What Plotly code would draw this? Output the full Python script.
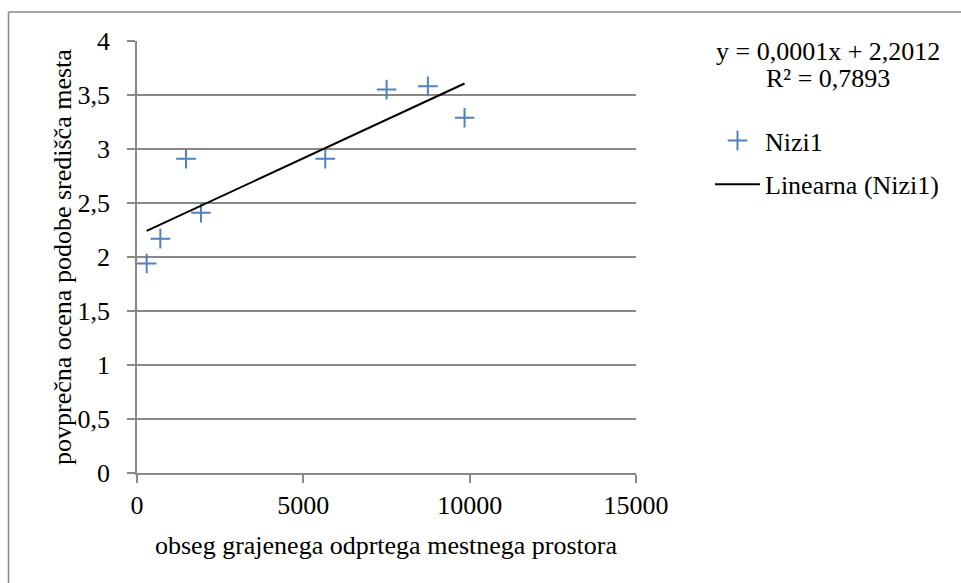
import numpy as np
import plotly.graph_objects as go

# Data
x_values = [291, 701, 1473, 1923, 5659, 7503, 8744, 9846]
y_values = [1.94, 2.17, 2.91, 2.41, 2.91, 3.55, 3.58, 3.29]
series_name = "Nizi1"
trend_name = "Linearna (Nizi1)"
x_tick_vals = [0, 5000, 10000, 15000]
x_tick_text = ["0", "5000", "10000", "15000"]
y_tick_vals = [0, 0.5, 1, 1.5, 2, 2.5, 3, 3.5, 4]
y_tick_text = ["0", "0,5", "1", "1,5", "2", "2,5", "3", "3,5", "4"]
equation_text = "y = 0,0001x + 2,2012"
r2_text = "R² = 0,7893"
x_title = "obseg grajenega odprtega mestnega prostora"
y_title = "povprečna ocena podobe središča mesta"

# Linear trendline (least squares) from the data
slope, intercept = np.polyfit(x_values, y_values, 1)
trend_x = [min(x_values), max(x_values)]
trend_y = [slope * v + intercept for v in trend_x]

FONT = "Times New Roman, Liberation Serif, serif"
GRID = "#888888"
BLUE = "#4F81BD"
FS = 26

fig = go.Figure()
fig.add_trace(go.Scatter(
    x=x_values, y=y_values, mode="markers", name=series_name,
    legendgroup="a",
    marker=dict(symbol="cross-thin", size=14, line=dict(color=BLUE, width=2), color=BLUE),
))
fig.add_trace(go.Scatter(
    x=trend_x, y=trend_y, mode="lines", name=trend_name,
    legendgroup="b",
    line=dict(color="black", width=2),
))

W, H = 961, 583
L, R, T, B = 137, 325, 41, 110
pw, ph = W - L - R, H - T - B

def px(xp):
    return (xp - L) / pw

def py(yp):
    return (H - B - yp) / ph

fig.update_layout(
    width=W, height=H,
    margin=dict(l=L, r=R, t=T, b=B, pad=0, autoexpand=False),
    paper_bgcolor="white", plot_bgcolor="white",
    font=dict(family=FONT, size=FS, color="black"),
    showlegend=True,
    legend=dict(
        x=px(710), y=py(117), xanchor="left", yanchor="top",
        font=dict(family=FONT, size=FS, color="black"),
        bgcolor="rgba(0,0,0,0)", tracegroupgap=7, itemwidth=45,
    ),
    xaxis=dict(
        range=[0, 15000], tickvals=x_tick_vals, ticktext=x_tick_text,
        showgrid=False, zeroline=False,
        showline=True, linecolor=GRID, linewidth=1.5,
        ticks="outside", ticklen=8, tickcolor=GRID, tickwidth=1.5,
        ticklabelstandoff=0, automargin=False,
        fixedrange=True,
    ),
    yaxis=dict(
        range=[0, 4], tickvals=y_tick_vals, ticktext=y_tick_text,
        showgrid=True, gridcolor=GRID, gridwidth=1.5, zeroline=False,
        showline=True, linecolor=GRID, linewidth=1.5,
        ticks="outside", ticklen=8, tickcolor=GRID, tickwidth=1.5,
        ticklabelstandoff=12, automargin=False,
        fixedrange=True,
    ),
    annotations=[
        dict(text=equation_text, xref="paper", yref="paper", x=px(828), y=py(52),
             xanchor="center", yanchor="middle", showarrow=False,
             font=dict(family=FONT, size=FS, color="black")),
        dict(text=r2_text, xref="paper", yref="paper", x=px(828), y=py(79),
             xanchor="center", yanchor="middle", showarrow=False,
             font=dict(family=FONT, size=FS, color="black")),
        dict(text=x_title, xref="paper", yref="paper", x=0.5, y=py(545),
             xanchor="center", yanchor="middle", showarrow=False,
             font=dict(family=FONT, size=FS, color="black")),
        dict(text=y_title, xref="paper", yref="paper", x=px(62), y=0.5,
             xanchor="center", yanchor="middle", showarrow=False, textangle=-90,
             font=dict(family=FONT, size=FS, color="black")),
    ],
    shapes=[
        dict(type="line", xref="paper", yref="paper", x0=px(8.5), x1=px(1000),
             y0=py(12), y1=py(12), line=dict(color=GRID, width=1.5)),
        dict(type="line", xref="paper", yref="paper", x0=px(8.5), x1=px(8.5),
             y0=py(12), y1=py(620), line=dict(color=GRID, width=1.5)),
    ],
)

fig.write_html("out.html", config={"displayModeBar": False},
               post_script="document.body.style.margin='0px';")
